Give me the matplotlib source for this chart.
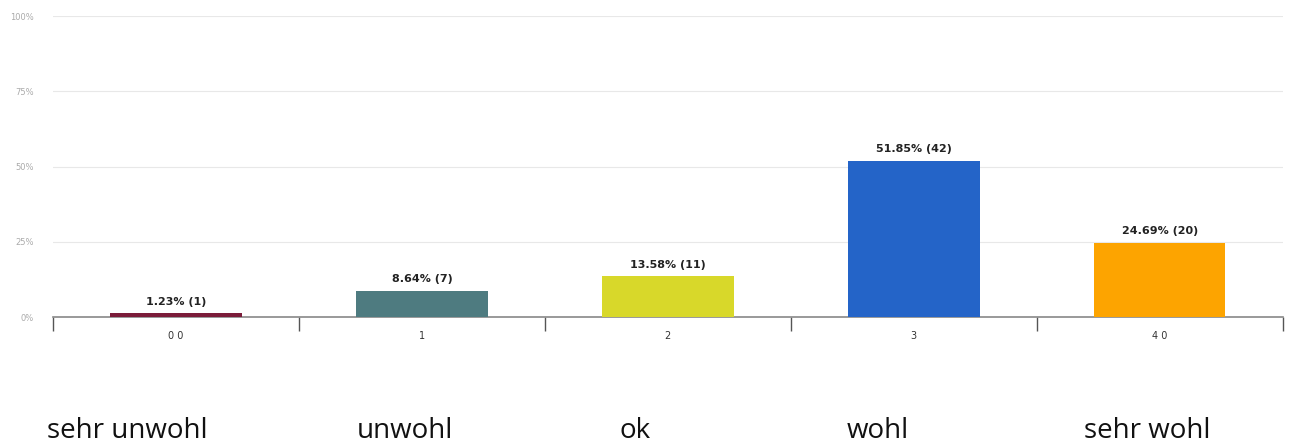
import matplotlib.pyplot as plt
import numpy as np

codes = ["0 0", "1", "2", "3", "4 0"]
labels = ["sehr unwohl", "unwohl", "ok", "wohl", "sehr wohl"]
percent = [1.23, 8.64, 13.58, 51.85, 24.69]
counts = [1, 7, 11, 42, 20]
colors = ["#7b1c3a", "#4e7b80", "#d8d82a", "#2464c8", "#fda400"]

fig = plt.figure(figsize=(12.93, 4.46), dpi=100)
ax = fig.add_axes([0.041, 0.289, 0.951, 0.675])

x = np.arange(len(codes))
ax.bar(x, percent, width=0.535, color=colors, zorder=3)
for xi, p, c in zip(x, percent, counts):
    ax.text(xi, p + 2.2, "%.2f%% (%d)" % (p, c), ha="center", va="bottom",
            fontsize=8, fontweight="bold", color="#222222")

ax.set_xlim(-0.5, 4.5)
ax.set_ylim(0, 100)
ax.set_yticks([0, 25, 50, 75, 100])
ax.set_yticklabels(["0%", "25%", "50%", "75%", "100%"], fontsize=6, color="#aaaaaa")
ax.yaxis.grid(True, color="#e8e8e8", linewidth=0.8, zorder=0)
ax.tick_params(axis="y", length=0, pad=14)

ax.set_xticks(x)
ax.set_xticklabels(codes, fontsize=7, color="#333333")
ax.set_xticks(np.arange(-0.5, 5, 1), minor=True)
ax.tick_params(axis="x", which="major", length=0, pad=10)
ax.tick_params(axis="x", which="minor", length=10, width=1, color="#555555", direction="out")

for s in ["top", "right", "left"]:
    ax.spines[s].set_visible(False)
ax.spines["bottom"].set_color("#888888")
ax.spines["bottom"].set_linewidth(1.2)

# text under the chart (pixel centres)
label_x = [127, 405, 635, 878, 1147]
for lx, lab in zip(label_x, labels):
    fig.text(lx / 1293, 1 - 438 / 446, lab, ha="center", va="baseline",
             fontsize=20, family="Open Sans", color="#111111")

plt.savefig("out.png", dpi=100)
